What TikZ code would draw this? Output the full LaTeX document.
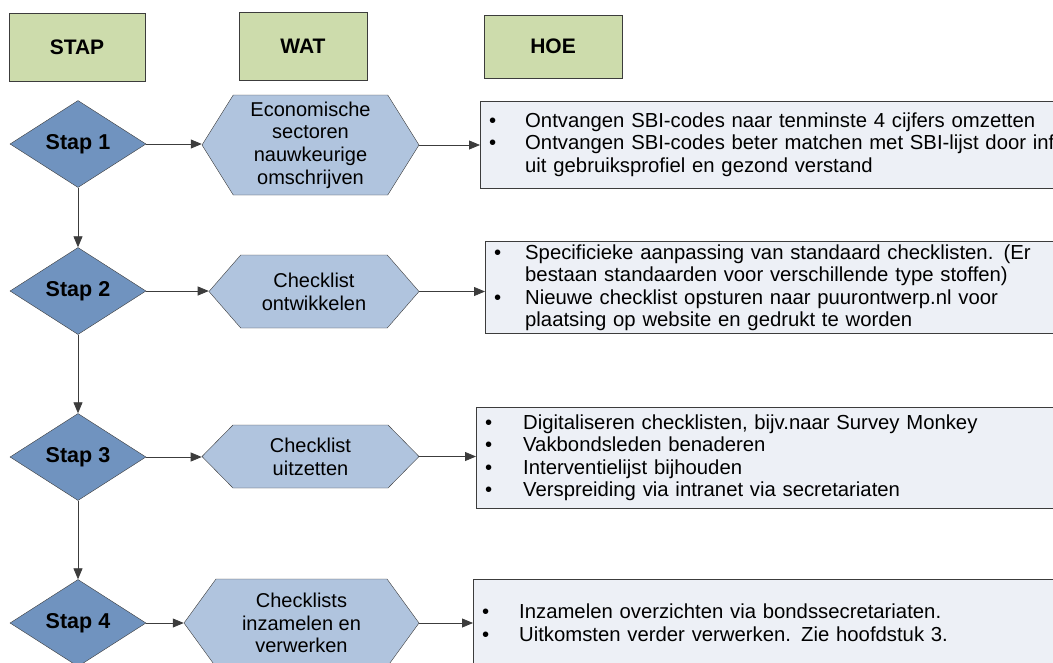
\documentclass[tikz,border=0pt]{standalone}
\usepackage{fontspec}
\setmainfont{Liberation Sans}
\usetikzlibrary{shapes.geometric,shapes.symbols,arrows.meta,shadows}

\definecolor{kopgroen}{RGB}{205,220,172}
\definecolor{stapblauw}{RGB}{112,147,191}
\definecolor{watblauw}{RGB}{176,196,222}
\definecolor{hoegrijs}{RGB}{237,240,246}
\definecolor{rand}{RGB}{60,60,60}

\newcommand{\itm}[1][36pt]{\makebox[#1][l]{\textbullet}}

\begin{document}
\begin{tikzpicture}[x=1pt,y=-1pt,
  kop/.style={draw=rand,fill=kopgroen,line width=0.9pt,font=\fontsize{21}{23}\selectfont\bfseries,
    drop shadow={shadow xshift=1pt,shadow yshift=-1pt,opacity=0.6}},
  stapvak/.style={diamond,draw=rand,fill=stapblauw,minimum width=136pt,minimum height=87pt,
    inner sep=0pt,font=\fontsize{21.5}{23}\selectfont\bfseries},
  watvak/.style={signal,signal to=east and west,draw=rand,fill=watblauw,align=center,
    inner sep=0pt,font=\fontsize{20}{22.7}\selectfont},
  hoevak/.style={draw=rand,fill=hoegrijs,anchor=west,text width=700pt,inner xsep=9pt,
    inner ysep=0pt,align=left,font=\fontsize{20.3}{22.5}\selectfont},
  pijl/.style={draw=rand,line width=0.8pt,-{Triangle[length=11pt,width=9pt]}}]
\useasboundingbox (0,0) rectangle (1053,662);

% koppen
\node[kop,minimum width=136pt,minimum height=68pt] (stap) at (77,47) {STAP};
\node[kop,minimum width=128pt,minimum height=68pt] (wat) at (303,46) {WAT};
\node[kop,minimum width=138pt,minimum height=63pt] (hoe) at (553,46.5) {HOE};

% stappen
\node[stapvak] (s1) at (78,144) {Stap 1};
\node[stapvak] (s2) at (78,291) {Stap 2};
\node[stapvak] (s3) at (78,457) {Stap 3};
\node[stapvak] (s4) at (78,623) {Stap 4};

% wat
\node[watvak,minimum width=217pt,minimum height=100pt,signal pointer angle=116] (w1) at (310.5,145)
  {Economische\\sectoren\\nauwkeurige\\omschrijven};
\node[watvak,minimum width=210pt,minimum height=73pt,signal pointer angle=98] (w2) at (314,291.5)
  {Checklist\\ontwikkelen};
\node[watvak,minimum width=217pt,minimum height=63pt,signal pointer angle=91] (w3) at (310.5,456.5)
  {Checklist\\uitzetten};
\node[watvak,minimum width=235pt,minimum height=88pt,signal pointer angle=108] (w4) at (301.5,623)
  {Checklists\\inzamelen en\\verwerken};

% hoe
\node[hoevak,minimum height=87pt] (h1) at (480,144.5)
  {\itm Ontvangen SBI-codes naar tenminste 4 cijfers omzetten\\
   \itm Ontvangen SBI-codes beter matchen met SBI-lijst door informatie\\
   \hspace*{36pt}uit gebruiksprofiel en gezond verstand};
\node[hoevak,minimum height=92pt] (h2) at (485,287.5)
  {\itm[31pt]Specificieke aanpassing van standaard checklisten. (Er\\
   \hspace*{31pt}bestaan standaarden voor verschillende type stoffen)\\
   \itm[31pt]Nieuwe checklist opsturen naar puurontwerp.nl voor\\
   \hspace*{31pt}plaatsing op website en gedrukt te worden};
\node[hoevak,minimum height=101pt] (h3) at (476,457.5)
  {\itm[38pt]Digitaliseren checklisten, bijv.naar Survey Monkey\\
   \itm[38pt]Vakbondsleden benaderen\\
   \itm[38pt]Interventielijst bijhouden\\
   \itm[38pt]Verspreiding via intranet via secretariaten};
\node[hoevak,minimum height=87pt] (h4) at (473,622.5)
  {\itm[37pt]Inzamelen overzichten via bondssecretariaten.\\
   \itm[37pt]Uitkomsten verder verwerken. Zie hoofdstuk 3.};

% pijlen
\foreach \i/\j in {1/2,2/3,3/4}
  \draw[pijl] (s\i.south) -- (s\j.north);
\foreach \i in {1,...,4} {
  \draw[pijl] (s\i.east) -- (s\i.east -| w\i.west);
  \draw[pijl] (w\i.east) -- (w\i.east -| h\i.west);
}
\end{tikzpicture}
\end{document}
